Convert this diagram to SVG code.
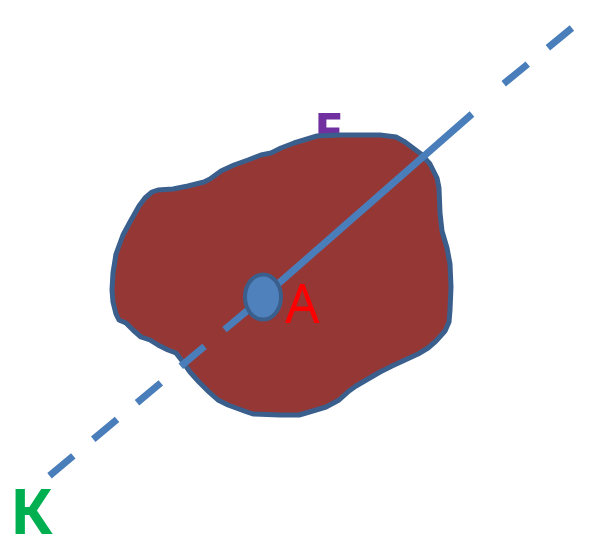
<svg xmlns="http://www.w3.org/2000/svg" width="589" height="541" viewBox="0 0 589 541">
<style>
.lbl{font-family:"Noto Sans","Liberation Sans",sans-serif}
.ln{stroke:#4a7ebb;stroke-width:7;fill:none;stroke-linecap:butt}
.dash{stroke-dasharray:31 26}
</style>
<rect width="589" height="541" fill="#ffffff"/>
<g id="label-E">
<text class="lbl" x="314" y="150" font-size="52" font-weight="bold" fill="#7030a0">Е</text>
</g>
<g id="region">
<path d="M152,192 L158,190 L173,189 L188,186 L204,182 L210,179 L221,171 L234,165 L248,160 L261,155 L271,153 L281,148 L294,143 L317,136 L340,135 L380,135 L396,137 L405,142 L421,154 L430,164 L437,178 L439,188 L440,213 L442,231 L447,248 L450,264 L451,287 L450,310 L449,322 L445,331 L436,341 L428,348 L418,354 L405,360 L392,366 L380,372 L368,379 L356,386 L349,391 L339,400 L326,407 L306,413 L299,415 L280,415 L253,414 L247,412 L228,405 L218,400 L209,392 L199,382 L190,372 L183,362 L176,353 L168,350 L158,345 L150,340 L141,337 L133,330 L126,323 L119,320 L116,314 L113,302 L112,290 L113,273 L116,254 L123,235 L130,222 L139,206 L145,198 Z" fill="#953735" stroke="#3b5f8c" stroke-width="5" stroke-linejoin="round"/>
</g>
<g id="connectors">
<line class="ln dash" x1="49.5" y1="475.8" x2="263" y2="297.5"/>
<line class="ln" x1="263" y1="297" x2="472" y2="114"/>
<line class="ln dash" x1="503.7" y1="83.7" x2="610" y2="-3" stroke-dasharray="31 24"/>
</g>
<g id="point-A">
<ellipse cx="263" cy="297" rx="18" ry="22.5" fill="#4f81bd" stroke="#3b5f8c" stroke-width="4"/>
<text class="lbl" x="285" y="323" font-size="54" fill="#ff0000">А</text>
</g>
<g id="label-K">
<text class="lbl" x="10" y="534" font-size="62" font-weight="bold" fill="#00b050">К</text>
</g>
</svg>
